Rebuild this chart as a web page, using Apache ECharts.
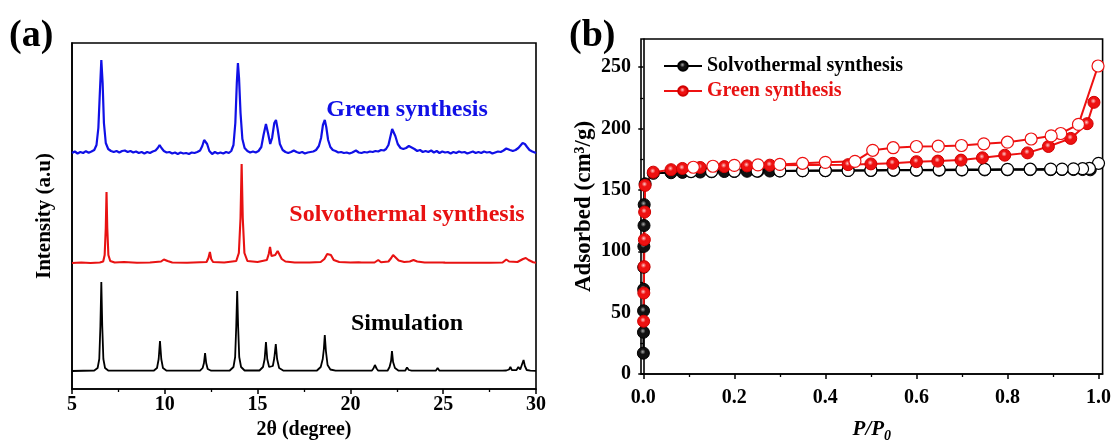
<!DOCTYPE html>
<html>
<head>
<meta charset="utf-8">
<script src="https://cdn.jsdelivr.net/npm/echarts@6/dist/echarts.min.js"></script>
<style>
html,body{margin:0;padding:0;background:#fff;}
#c{width:1114px;height:448px;}
</style>
</head>
<body>
<div id="c"></div>
<script>
// ---------- Panel (a): XRD patterns (relative intensity above each baseline) ----------
const XRD_X_TICKS = [5, 10, 15, 20, 25, 30];
const SIM_OFFSET = 18, SOLVO_OFFSET = 126, GREEN_OFFSET = 236;

const SIM_XRD = [[5,0],[6.2,0.5],[6.38,3],[6.47,12],[6.53,45],[6.58,89],[6.63,45],[6.69,12],[6.78,3],[6.95,0.5],
[7.5,0.3],[7.6,2],[7.7,0.3],
[9.4,0.3],[9.58,3],[9.67,12],[9.74,30],[9.81,12],[9.9,3],[10.1,0.3],
[11.9,0.3],[12.04,3],[12.11,8],[12.17,18],[12.23,8],[12.31,2],[12.5,0.3],
[13.5,0.5],[13.7,4],[13.79,14],[13.85,45],[13.9,80],[13.95,45],[14.01,14],[14.11,4],[14.3,0.5],
[15.1,0.5],[15.29,4],[15.38,12],[15.45,29],[15.52,12],[15.62,4],[15.72,3],[15.82,5],[15.9,13],[15.98,27],[16.05,12],[16.16,3],[16.4,0.3],
[16.6,0.3],[16.7,1.5],[16.8,0.3],
[18.2,0.5],[18.4,4],[18.51,12],[18.57,22],[18.62,36],[18.68,20],[18.77,6],[18.92,1.5],[19.2,0.3],
[20.15,0.3],[20.25,2],[20.35,0.3],
[21.15,0.3],[21.24,2.5],[21.32,6],[21.41,2.5],[21.5,0.3],
[22.0,0.3],[22.11,4],[22.19,10],[22.24,20],[22.3,9],[22.4,3],[22.6,0.3],
[22.95,0.3],[23.05,3.5],[23.15,1],[23.3,0.3],
[24.6,0.3],[24.7,3],[24.8,0.3],
[25.6,0.3],[25.65,1.2],[25.75,0.3],
[27.05,0.3],[27.12,2],[27.2,0.3],
[28.2,0.3],[28.3,2],[28.4,0.5],[28.55,1.5],[28.62,4],[28.7,0.8],[28.95,1],[29.05,4],[29.15,1.5],[29.25,3],[29.33,11],[29.4,5],[29.5,1],[29.7,0.3],[30,0.2]];

const SOLVO_XRD = [[5,0],[5.5,0.5],[6,0],[6.5,0.5],[6.68,1.5],[6.76,8],[6.82,35],[6.86,71],[6.9,35],[6.96,8],[7.06,2],[7.3,0.5],[7.8,1],[8.5,0.3],[9.2,0.5],
[9.8,1.5],[9.95,3.5],[10.02,4],[10.15,2],[10.4,0.5],[11.2,0.3],
[12.25,1],[12.35,5],[12.43,11],[12.5,4],[12.6,1],[13.2,0.5],
[13.85,2],[13.99,10],[14.08,45],[14.14,99],[14.2,45],[14.29,10],[14.45,2],[15.0,1],
[15.5,3],[15.6,9],[15.67,16],[15.75,7],[15.85,5],[15.95,8],[16.08,12],[16.15,11],[16.3,4],[16.5,1.5],[17,0.5],[17.8,0.5],[18.4,1],
[18.6,4],[18.75,9],[18.85,11],[18.95,8],[19.1,3],[19.4,1],[20,0.5],[20.45,0.8],[20.5,2],[20.6,0.5],[21.3,0.5],[21.5,3],[21.65,0.8],[22.05,1.5],[22.2,5],[22.3,8],[22.4,6],[22.6,2.5],[22.9,1],[23.2,1.5],[23.4,3],[23.6,1.5],[24,0.5],[24.95,0.5],[25.0,1.5],[25.1,0.4],[26,0.3],[27.3,0.3],[27.4,1.2],[27.5,0.3],[28.2,0.5],[28.4,3.5],[28.55,1.5],[29.0,1],[29.3,4],[29.45,5],[29.6,3],[29.85,0.8],[30,0.3]];

const GREEN_XRD = [[5,0],[5.15,1.5],[5.3,-0.5],[5.45,1],[5.6,0],[5.75,1.8],[5.9,0.3],[6.05,1.5],[6.2,3],[6.32,8],[6.42,25],[6.5,60],[6.58,93],[6.65,70],[6.72,30],[6.82,10],[6.95,4],[7.1,2],[7.25,1],[7.4,2],[7.55,0.5],[7.7,2],[7.85,2.5],[8.0,1],[8.15,2],[8.3,0.5],[8.45,1.5],[8.6,0],[8.75,1],[8.9,-0.5],[9.05,1],[9.2,0],[9.35,1.5],[9.5,2.5],[9.62,5],[9.72,8],[9.82,5],[9.95,2],[10.1,0.5],[10.25,1],[10.4,-0.5],[10.55,0.5],[10.7,-1],[10.85,0.5],[11.0,-0.5],[11.15,0],[11.3,-1],[11.45,0.5],[11.6,0],[11.75,1],[11.9,2.5],[12.02,7],[12.12,13],[12.2,14],[12.28,9],[12.4,2],[12.55,-1],[12.7,1],[12.85,-0.5],[13.0,0.5],[13.15,-0.5],[13.3,1],[13.45,0],[13.58,2],[13.7,8],[13.8,30],[13.88,70],[13.94,90],[14.0,75],[14.08,40],[14.18,14],[14.3,5],[14.45,2],[14.6,0.5],[14.75,1.5],[14.9,0.5],[15.05,2],[15.2,6],[15.32,18],[15.45,29],[15.56,20],[15.68,9],[15.78,15],[15.9,30],[15.99,33],[16.08,24],[16.2,9],[16.35,3],[16.5,1],[16.65,0],[16.8,1],[16.95,2.5],[17.1,1],[17.25,0],[17.4,1],[17.55,-0.5],[17.7,0.5],[17.85,1],[18.0,1.5],[18.15,3],[18.3,7],[18.42,15],[18.52,28],[18.62,33],[18.7,26],[18.8,13],[18.92,6],[19.05,3],[19.2,2],[19.35,0.5],[19.5,1],[19.65,0],[19.8,0.5],[19.95,-0.5],[20.1,0.5],[20.3,2.5],[20.45,0.5],[20.6,0],[20.75,1],[20.9,0.5],[21.05,1.5],[21.2,1],[21.35,2],[21.5,1.5],[21.65,3],[21.8,2.5],[21.92,4],[22.05,8],[22.15,16],[22.25,24],[22.33,25],[22.42,17],[22.55,9],[22.7,5],[22.85,4],[23.0,5],[23.15,7],[23.3,5.5],[23.45,4],[23.6,2],[23.75,3],[23.9,1],[24.05,2],[24.2,1],[24.35,2.5],[24.5,0.5],[24.65,2],[24.8,0],[24.95,1.5],[25.1,0.5],[25.25,1],[25.4,-0.5],[25.55,1],[25.7,0],[25.85,1.5],[26.0,0.5],[26.15,1],[26.3,-0.5],[26.45,0.5],[26.6,1.5],[26.75,0],[26.9,1],[27.05,0],[27.2,1.5],[27.35,0.5],[27.5,1],[27.65,-0.5],[27.8,0.5],[27.95,1.5],[28.1,1],[28.25,2.5],[28.4,4.5],[28.5,5],[28.6,3],[28.75,2],[28.9,3],[29.05,5],[29.15,7],[29.28,10],[29.4,9],[29.52,6],[29.65,3],[29.8,1.5],[29.9,-0.5],[30,0]];

// ---------- Panel (b): N2 isotherms ----------
const P_TICKS = [0, 0.2, 0.4, 0.6, 0.8, 1.0];
const P_MINOR = [0.1, 0.3, 0.5, 0.7, 0.9];
const ADS_TICKS = [0, 50, 100, 150, 200, 250];
const ADS_MINOR = [25, 75, 125, 175, 225];

const SOLVO_ADS_X = [0.0002,0.0004,0.0006,0.0008,0.001,0.0013,0.0016,0.002,0.004,0.022,0.061,0.086,0.125,0.15,0.178,0.2,0.228,0.252,0.278,0.3,0.35,0.4,0.45,0.5,0.55,0.6,0.65,0.7,0.75,0.8,0.85,0.895,0.92,0.945,0.965,0.982];
const SOLVO_ADS_Y = [17,34,51.5,69,87,104,121,138,155,163.5,164,164.3,164.6,164.8,165,165,165.2,165.3,165.4,165.5,165.6,165.7,165.8,165.9,166,166,166.1,166.2,166.3,166.4,166.5,166.5,166.6,166.6,166.6,166.4];
const SOLVO_DES_X = [1.0,0.98,0.965,0.945,0.92,0.895,0.85,0.8,0.75,0.7,0.65,0.6,0.55,0.5,0.45,0.4,0.35,0.3,0.25,0.2,0.15,0.105];
const SOLVO_DES_Y = [171.7,167.5,167.3,167.2,167,167,166.9,166.8,166.7,166.6,166.5,166.3,166.2,166,165.9,165.8,165.7,165.5,165.4,165.3,165.1,165];
const GREEN_ADS_X = [0.0007,0.0012,0.0018,0.0024,0.003,0.004,0.022,0.061,0.086,0.125,0.178,0.228,0.278,0.45,0.5,0.548,0.6,0.647,0.698,0.745,0.794,0.844,0.89,0.939,0.975,0.99];
const GREEN_ADS_Y = [43,66,87.5,109.5,132,153.7,164.5,166.5,167.5,168.3,169,169.6,170.2,170.6,171.2,171.7,173,173.5,174.3,176.2,178.3,180.2,185.4,192,204,221.4];
const GREEN_DES_X = [0.999,0.956,0.917,0.896,0.852,0.8,0.748,0.699,0.648,0.6,0.549,0.504,0.465,0.4,0.35,0.3,0.252,0.2,0.153,0.11];
const GREEN_DES_Y = [251,203.4,196,194,191.5,188.9,187.6,186.2,185.7,185.4,184.4,182.3,173.3,172.5,171.7,170.8,170.4,170,169.3,168.5];

const FONT = '"Liberation Serif", "Times New Roman", serif';
const BLUE = '#1010e6', RED = '#e81212', RED_B = '#ee1111', BLACK = '#000';

function shift(arr, off) { return arr.map(p => [p[0], p[1] + off]); }
function pairs(xs, ys) { return xs.map((x, i) => [x, ys[i]]); }
function ball(c, hi) {
  return { type: 'radial', x: 0.45, y: 0.4, r: 0.6,
    colorStops: [{offset: 0, color: hi}, {offset: 0.35, color: c}, {offset: 1, color: c}] };
}

const chart = echarts.init(document.getElementById('c'), null, {renderer: 'canvas'});
const boldTxt = {fontFamily: FONT, fontWeight: 'bold', color: '#000'};

chart.setOption({
  animation: false,
  backgroundColor: '#fff',
  grid: [
    {left: 72, right: 578, top: 43, bottom: 59, show: true, borderColor: '#000', borderWidth: 1.6, containLabel: false},
    {left: 641, right: 11, top: 39, bottom: 65, show: true, borderColor: '#000', borderWidth: 1.6, containLabel: false}
  ],
  xAxis: [
    {gridIndex: 0, type: 'value', min: 5, max: 30, interval: 5,
     axisLine: {show: true, lineStyle: {color: '#000', width: 1.6}},
     axisTick: {show: true, length: 5, lineStyle: {color: '#000', width: 1.5}},
     minorTick: {show: true, splitNumber: 2, length: 3, lineStyle: {color: '#000', width: 1.3}},
     axisLabel: Object.assign({fontSize: 20, margin: 6}, boldTxt),
     splitLine: {show: false},
     name: '2θ (degree)', nameLocation: 'middle', nameGap: 30,
     nameTextStyle: Object.assign({fontSize: 20}, boldTxt)},
    {gridIndex: 1, type: 'value', min: -0.005, max: 1.009,
     axisLine: {show: true, lineStyle: {color: '#000', width: 1.6}},
     axisTick: {show: true, length: 5, customValues: P_TICKS, lineStyle: {color: '#000', width: 1.5}},
     axisLabel: Object.assign({fontSize: 20, margin: 14, customValues: P_TICKS, formatter: v => v.toFixed(1)}, boldTxt),
     splitLine: {show: false},
     name: '{i|P/P}{s|0}', nameLocation: 'middle', nameGap: 43,
     nameTextStyle: {rich: {
       i: {fontFamily: FONT, fontWeight: 'bold', fontStyle: 'italic', fontSize: 21, lineHeight: 26, color: '#000'},
       s: {fontFamily: FONT, fontWeight: 'bold', fontStyle: 'italic', fontSize: 14, lineHeight: 14, verticalAlign: 'bottom', color: '#000'}
     }}},
    {gridIndex: 1, type: 'value', min: -0.005, max: 1.009, position: 'bottom', offset: 0,
     axisLine: {show: false}, axisLabel: {show: false}, splitLine: {show: false},
     axisTick: {show: true, length: 3, customValues: P_MINOR, lineStyle: {color: '#000', width: 1.3}}}
  ],
  yAxis: [
    {gridIndex: 0, type: 'value', min: 0, max: 346,
     axisLine: {show: true, lineStyle: {color: '#000', width: 1.6}},
     axisTick: {show: false}, axisLabel: {show: false}, splitLine: {show: false},
     name: 'Intensity (a.u)', nameLocation: 'middle', nameGap: 17, nameRotate: 90,
     nameTextStyle: Object.assign({fontSize: 21}, boldTxt)},
    {gridIndex: 1, type: 'value', min: 0, max: 273,
     axisLine: {show: true, lineStyle: {color: '#000', width: 1.6}},
     axisTick: {show: true, length: 5, customValues: ADS_TICKS, lineStyle: {color: '#000', width: 1.5}},
     axisLabel: Object.assign({fontSize: 20, margin: 10, customValues: ADS_TICKS}, boldTxt),
     splitLine: {show: false},
     name: 'Adsorbed (cm³/g)', nameLocation: 'middle', nameGap: 45, nameRotate: 90,
     nameTextStyle: Object.assign({fontSize: 23}, boldTxt)},
    {gridIndex: 1, type: 'value', min: 0, max: 273, position: 'left', offset: 0,
     axisLine: {show: false}, axisLabel: {show: false}, splitLine: {show: false},
     axisTick: {show: true, length: 3, customValues: ADS_MINOR, lineStyle: {color: '#000', width: 1.3}}}
  ],
  legend: {
    left: 658, top: 51, orient: 'vertical', itemWidth: 38, itemHeight: 12, itemGap: 5,
    selectedMode: false,
    data: [
      {name: 'Solvothermal synthesis', textStyle: {color: '#000'}},
      {name: 'Green synthesis', textStyle: {color: RED}}
    ],
    textStyle: {fontFamily: FONT, fontWeight: 'bold', fontSize: 20, lineHeight: 20}
  },
  graphic: [
    {type: 'text', left: 9, top: 17, style: {text: '(a)', font: 'bold 38px ' + FONT, fill: '#000'}},
    {type: 'text', left: 569, top: 17, style: {text: '(b)', font: 'bold 38px ' + FONT, fill: '#000'}},
    {type: 'text', x: 407, y: 110, style: {text: 'Green synthesis', font: 'bold 24px ' + FONT, fill: BLUE, align: 'center', verticalAlign: 'middle'}},
    {type: 'text', x: 407, y: 215, style: {text: 'Solvothermal synthesis', font: 'bold 24px ' + FONT, fill: RED, align: 'center', verticalAlign: 'middle'}},
    {type: 'text', x: 407, y: 324, style: {text: 'Simulation', font: 'bold 24px ' + FONT, fill: '#000', align: 'center', verticalAlign: 'middle'}}
  ],
  series: [
    {type: 'line', xAxisIndex: 0, yAxisIndex: 0, data: shift(SIM_XRD, SIM_OFFSET), showSymbol: false, symbol: 'none',
     lineStyle: {color: BLACK, width: 1.8}, silent: true},
    {type: 'line', xAxisIndex: 0, yAxisIndex: 0, data: shift(SOLVO_XRD, SOLVO_OFFSET), showSymbol: false, symbol: 'none',
     lineStyle: {color: RED, width: 2.1}, silent: true},
    {type: 'line', xAxisIndex: 0, yAxisIndex: 0, data: shift(GREEN_XRD, GREEN_OFFSET), showSymbol: false, symbol: 'none',
     lineStyle: {color: BLUE, width: 2.2}, silent: true},

    {name: 'Solvothermal synthesis', type: 'line', xAxisIndex: 1, yAxisIndex: 1, data: pairs(SOLVO_ADS_X, SOLVO_ADS_Y),
     symbol: 'circle', symbolSize: 12, showAllSymbol: true, lineStyle: {color: BLACK, width: 2},
     itemStyle: {color: ball('#111', '#aaa'), borderColor: '#000', borderWidth: 1}},
    {name: 'Solvothermal des', type: 'line', xAxisIndex: 1, yAxisIndex: 1, data: pairs(SOLVO_DES_X, SOLVO_DES_Y),
     symbol: 'circle', symbolSize: 12, showAllSymbol: true, lineStyle: {color: BLACK, width: 2},
     itemStyle: {color: '#fff', borderColor: '#000', borderWidth: 1.2}},
    {name: 'Green synthesis', type: 'line', xAxisIndex: 1, yAxisIndex: 1, data: pairs(GREEN_ADS_X, GREEN_ADS_Y),
     symbol: 'circle', symbolSize: 12, showAllSymbol: true, lineStyle: {color: RED_B, width: 2},
     itemStyle: {color: ball(RED_B, '#ffc8c8'), borderColor: '#d00000', borderWidth: 1}},
    {name: 'Green des', type: 'line', xAxisIndex: 1, yAxisIndex: 1, data: pairs(GREEN_DES_X, GREEN_DES_Y),
     symbol: 'circle', symbolSize: 12, showAllSymbol: true, lineStyle: {color: RED_B, width: 2},
     itemStyle: {color: '#fff', borderColor: RED_B, borderWidth: 1.2}}
  ]
});
</script>
</body>
</html>
